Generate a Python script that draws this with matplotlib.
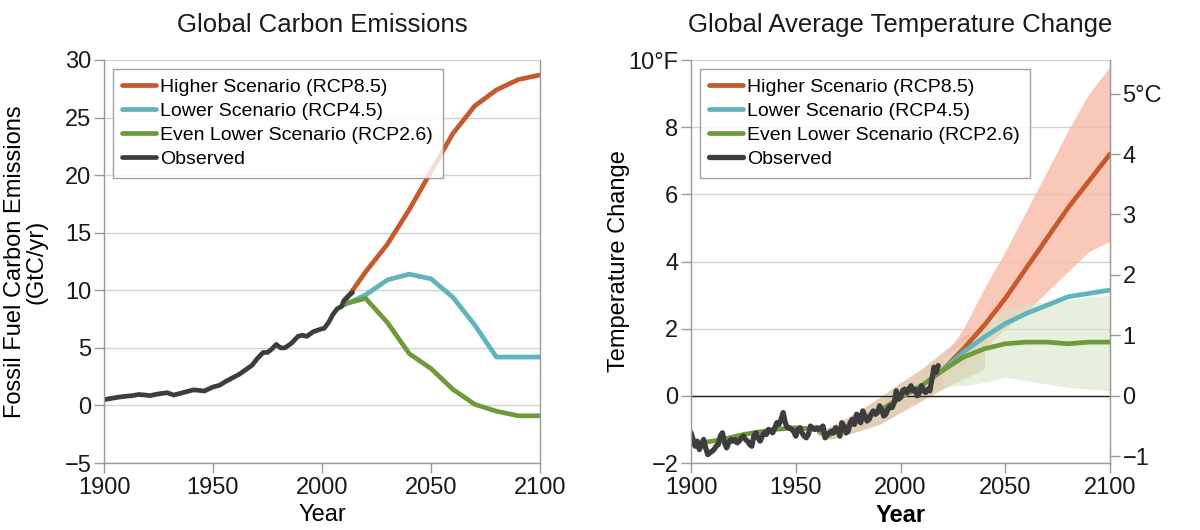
import numpy as np
import matplotlib.pyplot as plt
from matplotlib.ticker import FixedLocator, FuncFormatter

plt.rcParams['font.family'] = ['Liberation Sans', 'DejaVu Sans']

ORANGE = '#c65a2c'
TEAL = '#5fb4bd'
GREEN = '#6f9a3b'
DARK = '#3d3d3d'
GRID = '#d3d3d3'
SPINE = '#9a9a9a'

# ---- left panel: emissions (GtC/yr)
obs_em_years = [1900, 1903, 1906, 1910, 1913, 1916, 1919, 1921, 1925, 1929, 1932, 1935, 1938, 1941, 1944,
                1946, 1950, 1953, 1956, 1959, 1962, 1965, 1968, 1970, 1973, 1975, 1977, 1979, 1981,
                1983, 1986, 1989, 1991, 1993, 1996, 1999, 2001, 2003, 2005, 2007, 2009, 2010, 2012, 2014]
obs_em = [0.5, 0.6, 0.7, 0.8, 0.85, 0.95, 0.9, 0.85, 1.0, 1.1, 0.9, 1.05, 1.2, 1.35, 1.3,
          1.25, 1.6, 1.75, 2.1, 2.4, 2.7, 3.1, 3.5, 4.0, 4.6, 4.6, 4.9, 5.3, 5.0,
          5.0, 5.4, 6.0, 6.1, 6.0, 6.4, 6.6, 6.7, 7.2, 7.9, 8.4, 8.6, 9.1, 9.5, 9.8]
scen_em_years = [2010, 2020, 2030, 2040, 2050, 2060, 2070, 2080, 2090, 2100]
rcp85_em = [8.9, 11.6, 14.0, 17.0, 20.3, 23.6, 26.0, 27.4, 28.3, 28.7]
rcp45_em = [8.7, 9.6, 10.9, 11.4, 11.0, 9.4, 7.0, 4.2, 4.2, 4.2]
rcp26_em = [8.8, 9.3, 7.2, 4.5, 3.2, 1.4, 0.1, -0.5, -0.9, -0.9]

# ---- right panel: temperature change (deg F)
obs_t_years = list(range(1900, 2019))
obs_t = [-1.1, -1.3, -1.5, -1.35, -1.6, -1.45, -1.3, -1.55, -1.75, -1.7,
         -1.65, -1.6, -1.5, -1.45, -1.2, -1.1, -1.4, -1.55, -1.4, -1.3,
         -1.35, -1.3, -1.4, -1.35, -1.25, -1.2, -1.3, -1.35, -1.45, -1.5,
         -1.2, -1.1, -1.25, -1.35, -1.2, -1.1, -1.15, -1.0, -1.05, -1.1,
         -0.95, -0.8, -0.85, -0.7, -0.5, -0.8, -0.95, -0.95, -1.0, -1.05,
         -1.2, -1.0, -0.95, -1.1, -1.2, -1.25, -1.15, -0.9, -0.95, -1.0,
         -0.95, -1.0, -0.95, -0.9, -1.25, -1.15, -1.1, -1.05, -1.1, -0.95,
         -1.0, -1.2, -0.8, -0.9, -1.1, -1.05, -0.8, -0.7, -0.85, -0.55,
         -0.6, -0.8, -0.45, -0.6, -0.75, -0.7, -0.55, -0.45, -0.55, -0.5,
         -0.3, -0.4, -0.6, -0.55, -0.4, -0.3, -0.35, -0.2, 0.15, -0.1,
         -0.05, 0.15, 0.2, 0.1, 0.2, 0.3, 0.15, 0.2, 0.0, 0.1,
         0.3, 0.15, 0.1, 0.2, 0.15, 0.5, 0.85, 0.7, 0.9]
hist_years = [1900, 1915, 1925, 1940, 1950, 1960, 1965, 1970, 1980, 1990, 2000, 2010, 2020]
hist_t = [-1.45, -1.3, -1.15, -1.0, -0.95, -1.0, -1.2, -1.05, -0.75, -0.45, -0.05, 0.3, 0.75]
band_years = [1960, 1965, 1970, 1980, 1990, 2000, 2010, 2020, 2030, 2040]
band_lo = [-1.15, -1.3, -1.25, -1.05, -0.85, -0.5, -0.15, 0.2, 0.5, 0.8]
band_hi = [-0.85, -0.95, -0.8, -0.45, -0.05, 0.4, 0.8, 1.3, 1.8, 2.1]
scen_t_years = [2020, 2030, 2040, 2050, 2060, 2070, 2080, 2090, 2100]
rcp85_t = [0.75, 1.4, 2.1, 2.9, 3.8, 4.7, 5.6, 6.4, 7.2]
rcp45_t = [0.75, 1.3, 1.75, 2.15, 2.45, 2.7, 2.95, 3.05, 3.15]
rcp26_t = [0.75, 1.15, 1.4, 1.55, 1.6, 1.6, 1.55, 1.6, 1.6]
rcp85_lo = [0.45, 0.9, 1.4, 2.0, 2.5, 3.1, 3.7, 4.3, 4.6]
rcp85_hi = [1.1, 2.0, 3.2, 4.3, 5.5, 6.7, 7.9, 9.0, 9.8]
rcp26_lo = [0.3, 0.3, 0.4, 0.55, 0.45, 0.35, 0.25, 0.2, 0.15]
rcp26_hi = [1.1, 1.6, 2.2, 2.6, 2.75, 2.8, 2.85, 2.95, 3.0]

LABELS = ['Higher Scenario (RCP8.5)', 'Lower Scenario (RCP4.5)',
          'Even Lower Scenario (RCP2.6)', 'Observed']

TICK_FS = 17
LABEL_FS = 17
TITLE_FS = 18.5
LW = 3.4


def style_axes(ax):
    for side in ('left', 'right', 'bottom'):
        ax.spines[side].set_color(SPINE)
        ax.spines[side].set_linewidth(1.0)
    ax.spines['top'].set_visible(False)
    ax.grid(axis='y', color=GRID, linewidth=1.0)
    ax.set_axisbelow(True)
    ax.tick_params(labelcolor='#1a1a1a', labelsize=TICK_FS, length=7, width=1,
                   direction='out', color=SPINE, pad=2)
    ax.tick_params(axis='x', pad=3)
    ax.set_xlim(1900, 2100)
    ax.set_xticks([1900, 1950, 2000, 2050, 2100])


def add_legend(ax):
    leg = ax.legend(loc='upper left', fontsize=14, frameon=True, fancybox=False,
                    handlelength=1.7, handletextpad=0.25, labelspacing=0.33,
                    borderaxespad=0.45, borderpad=0.5)
    leg.get_frame().set_edgecolor('#8a8a8a')
    leg.get_frame().set_linewidth(1.0)


def minus(v):
    return f'{int(round(v))}'.replace('-', '\u2212')


fig = plt.figure(figsize=(12, 5.3), dpi=100)

# left panel
ax1 = fig.add_axes([104 / 1200, 1 - 463 / 530, 436 / 1200, 403 / 530])
ax1.plot(scen_em_years, rcp85_em, color=ORANGE, lw=LW, label=LABELS[0], solid_capstyle='round')
ax1.plot(scen_em_years, rcp45_em, color=TEAL, lw=LW, label=LABELS[1], solid_capstyle='round')
ax1.plot(scen_em_years, rcp26_em, color=GREEN, lw=LW, label=LABELS[2], solid_capstyle='round')
ax1.plot(obs_em_years, obs_em, color=DARK, lw=LW, label=LABELS[3], solid_capstyle='round')
ax1.set_ylim(-5, 30)
ax1.set_yticks(range(-5, 31, 5))
ax1.yaxis.set_major_formatter(FuncFormatter(lambda v, p: minus(v)))
style_axes(ax1)
ax1.set_xlabel('Year', fontsize=LABEL_FS, labelpad=4)
ax1.set_ylabel('Fossil Fuel Carbon Emissions\n(GtC/yr)', fontsize=LABEL_FS, labelpad=12,
               linespacing=1.0)
ax1.set_title('Global Carbon Emissions', fontsize=TITLE_FS, pad=20, color='#1a1a1a')
add_legend(ax1)

# right panel
ax2 = fig.add_axes([691 / 1200, 1 - 463 / 530, 419 / 1200, 403 / 530])
ax2.fill_between(band_years, band_lo, band_hi, color='#dcc4a4', alpha=0.8, lw=0)
ax2.fill_between(scen_t_years, rcp85_lo, rcp85_hi, color='#f8bba8', alpha=0.8, lw=0)
ax2.fill_between(scen_t_years, rcp26_lo, rcp26_hi, color='#d6e6c6', alpha=0.6, lw=0)
ax2.axhline(0, color='#222222', lw=1.0)
ax2.plot(scen_t_years, rcp85_t, color=ORANGE, lw=LW, label=LABELS[0], solid_capstyle='round')
ax2.plot(scen_t_years, rcp45_t, color=TEAL, lw=LW, label=LABELS[1], solid_capstyle='round')
ax2.plot(hist_years + scen_t_years[1:], hist_t + rcp26_t[1:], color=GREEN, lw=LW,
         label=LABELS[2], solid_capstyle='round')
ax2.plot(obs_t_years, obs_t, color=DARK, lw=3.8, label=LABELS[3], solid_capstyle='round')
ax2.set_ylim(-2, 10)
ax2.set_yticks(range(-2, 11, 2))
ax2.yaxis.set_major_formatter(FuncFormatter(
    lambda v, p: '10\u00b0F' if v == 10 else minus(v)))
style_axes(ax2)
ax2.set_xlabel('Year', fontsize=LABEL_FS, fontweight='bold', labelpad=4)
ax2.set_ylabel('Temperature Change', fontsize=LABEL_FS, labelpad=-1)
ax2.set_title('Global Average Temperature Change', fontsize=TITLE_FS, pad=20, color='#1a1a1a')
add_legend(ax2)

axc = ax2.twinx()
axc.set_ylim(-2 / 1.8, 10 / 1.8)
axc.yaxis.set_major_locator(FixedLocator(range(-1, 6)))
axc.yaxis.set_major_formatter(FuncFormatter(
    lambda v, p: '5\u00b0C' if round(v) == 5 else minus(v)))
for side in ('left', 'top', 'bottom'):
    axc.spines[side].set_visible(False)
axc.spines['right'].set_color(SPINE)
axc.tick_params(labelcolor='#1a1a1a', labelsize=TICK_FS, length=7, width=1,
                direction='out', color=SPINE, pad=2)

fig.savefig('out.png', dpi=100)
